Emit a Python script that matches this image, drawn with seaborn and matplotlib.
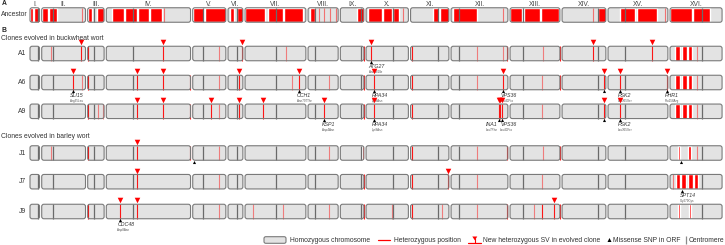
import matplotlib
matplotlib.use("Agg")
import matplotlib.pyplot as plt
from matplotlib.patches import FancyBboxPatch, Polygon
from matplotlib.transforms import offset_copy
import seaborn as sns
import pandas as pd

sns.set_theme(style="white")
plt.rcParams['font.family'] = ['Liberation Sans', 'DejaVu Sans']

# chromosome lengths / centromeres (kb)
chroms = ["I", "II", "III", "IV", "V", "VI", "VII", "VIII",
          "IX", "X", "XI", "XII", "XIII", "XIV", "XV", "XVI"]
chrom_len = [174, 800, 300, 1539, 605, 271, 1111, 550, 430, 773, 700, 1038, 910, 800, 1093, 950]
centromere = [141, 212, 121, 493, 194, 170, 566, 128, 373, 488, 508, 152, 243, 664, 311, 579]

# ancestor: heterozygous regions (chrom, start, end) and single positions
anc_blocks = [("I", 0, 60), ("I", 75, 174), ("II", 0, 120), ("II", 135, 274),
              ("III", 0, 79), ("III", 170, 300),
              ("IV", 104, 330), ("IV", 350, 560), ("IV", 585, 780), ("IV", 800, 1018),
              ("V", 0, 200), ("V", 220, 605), ("VI", 30, 100), ("VI", 165, 271),
              ("VII", 0, 365), ("VII", 420, 700), ("VII", 720, 1060),
              ("VIII", 37, 128), ("IX", 305, 430),
              ("X", 37, 300), ("X", 315, 475), ("X", 490, 600), ("XI", 411, 520), ("XI", 540, 700),
              ("XII", 37, 475),
              ("XIII", 0, 210), ("XIII", 260, 550), ("XIII", 570, 900), ("XIV", 658, 800),
              ("XV", 219, 500), ("XV", 520, 895), ("XVI", 0, 400), ("XVI", 420, 731)]
anc_sites = [("II", 731), ("IV", 1060), ("VIII", 200), ("VIII", 300), ("VIII", 410),
             ("VIII", 505), ("X", 676), ("XII", 945), ("XIV", 566), ("XV", 1041)]

# evolved clones: heterozygous positions (chrom, kb, strength)
a1_het = [("II", 164, .45), ("III", 5, 1), ("V", 486, .45), ("VII", 749, .45),
          ("IX", 425, .9), ("XI", 22, .9), ("XII", 480, .45), ("XII", 945, .45),
          ("XII", 1030, .9), ("XIII", 597, .45), ("XIII", 905, .9), ("XVI", 488, .45)]
a6_het = [("II", 731, .45), ("III", 5, 1), ("IV", 1530, .9), ("V", 486, .45),
          ("VII", 853, .45), ("VIII", 389, .45), ("IX", 425, .9), ("XI", 22, .9),
          ("XII", 480, .45), ("XIII", 590, .45), ("XIII", 905, .9), ("XVI", 488, .45)]
a9_het = [("III", 5, 1), ("III", 194, .45), ("III", 285, .45), ("IV", 1530, .9),
          ("V", 486, .45), ("IX", 425, .9), ("XI", 22, .9), ("XIII", 590, .45),
          ("XVI", 488, .45)]
j1_het = [("II", 164, .45), ("III", 5, 1), ("IV", 1530, 1), ("V", 486, .45),
          ("VIII", 389, .45), ("XI", 22, .9), ("XII", 480, .45), ("XII", 1030, .9),
          ("XIII", 597, .45), ("XIII", 905, .9), ("XVI", 488, .45)]
j7_het = [("V", 486, .45), ("IX", 425, .9), ("XI", 22, .9), ("XII", 480, .45),
          ("XIII", 590, .45), ("XVI", 50, .45)]
j9_het = [("III", 5, 1), ("V", 486, .45), ("VII", 141, .45), ("VII", 689, .45),
          ("VIII", 389, .45), ("IX", 425, .9), ("X", 470, .45), ("XI", 22, .9),
          ("XI", 570, .45), ("XII", 470, .45), ("XII", 1030, .9), ("XIII", 444, .45),
          ("XIII", 579, .9), ("XIII", 905, .9)]

# heterozygous regions in the clones (chrom, start, end)
a1_blocks = [("XVI", 91, 183), ("XVI", 213, 305), ("XVI", 335, 396)]
a6_blocks = [("XVI", 91, 183), ("XVI", 213, 305), ("XVI", 335, 396)]
a9_blocks = [("XVI", 91, 183), ("XVI", 213, 305), ("XVI", 335, 396)]
j1_blocks = [("XVI", 141, 183), ("XVI", 329, 378), ("IX", 400, 430)]
j7_blocks = [("XVI", 110, 183), ("XVI", 200, 300), ("XVI", 320, 420), ("XVI", 440, 517)]
j9_blocks = [("XVI", 141, 183), ("XVI", 350, 378)]

# new heterozygous structural variants (chrom, kb)
a1_sv = [("II", 718), ("IV", 1041), ("VI", 262), ("X", 91), ("XIV", 572), ("XV", 809)]
a6_sv = [("II", 566), ("IV", 560), ("IV", 1041), ("VI", 206), ("VII", 987), ("X", 152),
         ("XII", 945), ("XIV", 775), ("XV", 219), ("XV", 1085)]
a9_sv = [("IV", 560), ("IV", 1041), ("V", 329), ("VI", 206), ("VII", 323), ("VIII", 298),
         ("X", 152), ("XII", 870), ("XII", 900), ("XII", 932), ("XIV", 775), ("XV", 219)]
j1_sv = [("IV", 560)]
j7_sv = [("IV", 560), ("XI", 690)]
j9_sv = [("IV", 250), ("IV", 560), ("XIII", 809)]

# missense SNPs: clone, chrom, kb, gene, change
snp_clone = ["A1", "A6", "A6", "A6", "A6", "A6", "A6", "A6",
             "A9", "A9", "A9", "A9", "A9", "A9", "J1", "J1", "J7", "J9"]
snp_chrom = ["X", "II", "VII", "X", "XII", "XIV", "XV", "XV",
             "VIII", "X", "XII", "XII", "XIV", "XV", "V", "XVI", "XVI", "IV"]
snp_kb = [91, 566, 987, 152, 945, 775, 219, 1085,
          298, 152, 877, 932, 775, 219, 25, 201, 225, 250]
snp_gene = ["ATG27", "SLI15", "CCH1", "RPA34", "VPS36", "", "PSK2", "PHR1",
            "KSP1", "RPA34", "INA1", "VPS36", "", "PSK2", "", "", "SPT14", "CDC48"]
snp_change = ["Asn181Ile", "Arg35Leu", "Asn797Thr", "Lys8Asn", "Leu40Pro", "", "Leu365Ser",
              "Pro158Arg", "Asp4Asn", "Lys8Asn", "Leu7Phe", "Leu40Pro", "", "Leu365Ser",
              "", "", "Gly279Cys", "Asp8Asn"]

clones = ["A1", "A6", "A9", "J1", "J7", "J9"]
clone_het = dict(zip(clones, [a1_het, a6_het, a9_het, j1_het, j7_het, j9_het]))
clone_blocks = dict(zip(clones, [a1_blocks, a6_blocks, a9_blocks, j1_blocks, j7_blocks, j9_blocks]))
clone_sv = dict(zip(clones, [a1_sv, a6_sv, a9_sv, j1_sv, j7_sv, j9_sv]))

# layout
GAP = 40
KB_PER_PX = 18.27
row_y = {"Ancestor": 15, "A1": 53.5, "A6": 82.5, "A9": 111.3,
         "J1": 153, "J7": 181.7, "J9": 211.5}
BAR_H = 14.5
RED = "#ff0000"
label_dx = {"INA1": -13, "VPS36": -2}

offset = {}
pos = 0
for c, L in zip(chroms, chrom_len):
    offset[c] = pos
    pos += L + GAP


def g(c, kb):
    return offset[c] + kb


fig = plt.figure(figsize=(7.25, 2.45), dpi=100)
ax = fig.add_axes([0, 0, 1, 1])
lab = fig.add_axes([0, 0, 1, 1])  # pixel-space axis for labels/legend


def chrom_box(c, top, **kw):
    return FancyBboxPatch((offset[c], top), chrom_len[chroms.index(c)], BAR_H,
                          boxstyle="round,pad=0,rounding_size=%f" % (2.2 * KB_PER_PX),
                          mutation_aspect=1 / KB_PER_PX, **kw)


def draw_row(y, blocks, sites, site_alpha):
    top, bot = y - BAR_H / 2, y + BAR_H / 2
    for c in chroms:
        ax.add_patch(chrom_box(c, top, fc="#e3e3e3", ec="none", zorder=1))
    for c, s, e in blocks:
        ax.broken_barh([(g(c, s), e - s)], (top, BAR_H), facecolors=RED, zorder=2)
    for (c, kb), a in zip(sites, site_alpha):
        ax.vlines(g(c, kb), top, bot, colors=RED, alpha=a, lw=0.8, zorder=2)
    ax.vlines([g(c, k) for c, k in zip(chroms, centromere)], top, bot,
              colors="#6a6a6a", lw=0.9, zorder=3)
    for c in chroms:
        ax.add_patch(chrom_box(c, top, fc="none", ec="#7a7a7a", lw=0.8, zorder=4))


# ancestor
draw_row(row_y["Ancestor"], anc_blocks, anc_sites, [0.5] * len(anc_sites))
for c, L in zip(chroms, chrom_len):
    ax.text(g(c, L / 2), 4.5, c + ".", ha="center", va="center", fontsize=4.9, color="#444444")

# clones
for cl in clones:
    y = row_y[cl]
    het = clone_het[cl] + [(c, k, 0.9) for c, k in clone_sv[cl]]
    draw_row(y, clone_blocks[cl], [(c, k) for c, k, a in het], [a for c, k, a in het])

sv_df = pd.DataFrame([(g(c, k), row_y[cl] - BAR_H / 2 - 3.8) for cl in clones for c, k in clone_sv[cl]],
                     columns=["x", "y"])
sns.scatterplot(data=sv_df, x="x", y="y", marker="v", s=16, color=RED, linewidth=0,
                ax=ax, legend=False, zorder=6)

snp_df = pd.DataFrame({"clone": snp_clone, "chrom": snp_chrom, "kb": snp_kb,
                       "gene": snp_gene, "change": snp_change})
snp_df["x"] = [g(c, k) for c, k in zip(snp_df.chrom, snp_df.kb)]
snp_df["y"] = [row_y[cl] + BAR_H / 2 + 1.6 for cl in snp_df.clone]
sns.scatterplot(data=snp_df, x="x", y="y", marker="^", s=5, color="black", linewidth=0,
                ax=ax, legend=False, zorder=6)
for _, r in snp_df.iterrows():
    if not r.gene:
        continue
    dx = label_dx.get(r.gene, -2.5) if r.clone == "A9" else -2.5
    tr = offset_copy(ax.transData, fig=fig, x=dx, y=0, units="dots")
    ax.text(r.x, r.y + 4.5, r.gene, transform=tr, ha="left", va="center",
            fontsize=3.8, color="#333333", style="italic")
    ax.text(r.x, r.y + 10, r.change, transform=tr, ha="left", va="center",
            fontsize=2.2, color="#555555")

ax.set_xlim(-30 * KB_PER_PX, (725 - 30) * KB_PER_PX)
ax.set_ylim(245, 0)
ax.set_axis_off()

# labels in pixel space
lab.set_xlim(0, 725)
lab.set_ylim(245, 0)
lab.set_axis_off()
lab.patch.set_alpha(0)
fs = 4.9
lab.text(1.5, 3.5, "A", fontsize=fs, fontweight="bold", va="center")
lab.text(27.5, row_y["Ancestor"], "Ancestor", fontsize=fs, ha="right", va="center", color="#333333")
lab.text(1.5, 31, "B", fontsize=fs, fontweight="bold", va="center")
lab.text(1.5, 38.5, "Clones evolved in buckwheat wort", fontsize=fs, va="center", color="#333333")
lab.text(1.5, 136, "Clones evolved in barley wort", fontsize=fs, va="center", color="#333333")
for cl in clones:
    lab.text(26.5, row_y[cl], cl, fontsize=fs, ha="right", va="center", color="#333333")

# legend
ly = 240
lab.add_patch(FancyBboxPatch((264, ly - 3.3), 22, 6.6, boxstyle="round,pad=0,rounding_size=1.8",
                             fc="#e3e3e3", ec="#7a7a7a", lw=0.8))
lab.text(290.5, ly, "Homozygous chromosome", fontsize=fs, va="center", color="#333333")
lab.plot([378.5, 390.5], [ly, ly], color=RED, lw=0.9)
lab.text(394, ly, "Heterozygous position", fontsize=fs, va="center", color="#333333")
lab.plot([468.5, 481], [ly + 3, ly + 3], color=RED, lw=0.9)
lab.vlines(474.8, ly - 2, ly + 3, color=RED, lw=0.8)
lab.add_patch(Polygon([[472.3, ly - 3.5], [477.3, ly - 3.5], [474.8, ly + 0.3]], closed=True, fc=RED, ec="none"))
lab.text(483.3, ly, "New heterozygous SV in evolved clone", fontsize=fs, va="center", color="#333333")
lab.add_patch(Polygon([[607.5, ly + 2], [611.5, ly + 2], [609.5, ly - 2]], closed=True, fc="black", ec="none"))
lab.text(612.8, ly, "Missense SNP in ORF", fontsize=fs, va="center", color="#333333")
lab.vlines(686, ly - 4, ly + 4, color="#8a8a8a", lw=0.9)
lab.text(688.5, ly, "Centromere", fontsize=fs, va="center", color="#333333")

fig.savefig("out.png", dpi=100)
